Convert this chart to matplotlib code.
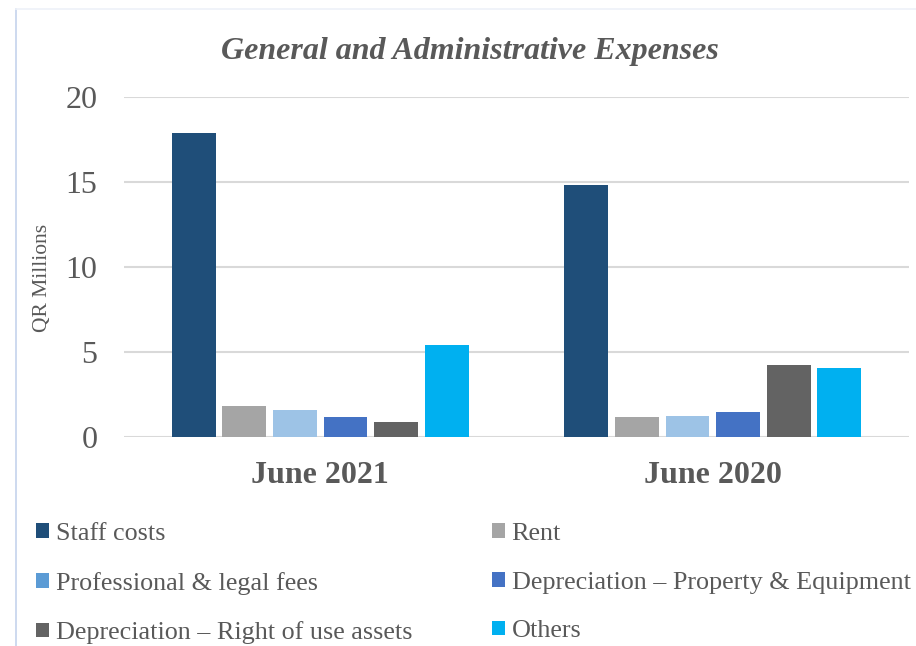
import matplotlib
matplotlib.use("Agg")
import matplotlib.pyplot as plt
import numpy as np
from matplotlib.patches import Patch
from matplotlib.lines import Line2D

categories = ["June 2021", "June 2020"]
series_names = ["Staff costs", "Rent", "Professional & legal fees",
                "Depreciation \u2013 Property & Equipment",
                "Depreciation \u2013 Right of use assets", "Others"]
staff_costs = [17.9, 14.8]
rent = [1.8, 1.2]
professional_fees = [1.6, 1.25]
dep_property = [1.2, 1.5]
dep_right_of_use = [0.9, 4.25]
others = [5.4, 4.05]
y_ticks = [0, 5, 10, 15, 20]

values = [staff_costs, rent, professional_fees, dep_property, dep_right_of_use, others]
bar_colors = ["#1F4E79", "#A5A5A5", "#9DC3E6", "#4472C4", "#636363", "#00B0F0"]
legend_colors = ["#1F4E79", "#A5A5A5", "#5B9BD5", "#4472C4", "#636363", "#00B0F0"]

plt.rcParams['font.family'] = ['Liberation Serif', 'DejaVu Serif']
text_color = "#595959"

W, H = 916, 646
fig = plt.figure(figsize=(W / 100, H / 100), dpi=100)
fig.patch.set_facecolor("white")

# chart frame
fig.add_artist(Line2D([16 / W, 16 / W], [0, 1 - 9 / H], transform=fig.transFigure,
                      color="#C5D3EC", lw=1.2))
fig.add_artist(Line2D([16 / W, 1], [1 - 9 / H, 1 - 9 / H], transform=fig.transFigure,
                      color="#EEF1F8", lw=1.2))

ax = fig.add_axes([124 / W, 1 - 437 / H, (909 - 124) / W, (437 - 97) / H])
x = np.arange(len(categories))
step = 0.1287
width = 0.112
for j, (vals, col) in enumerate(zip(values, bar_colors)):
    ax.bar(x + (j - 2.5) * step, vals, width=width, color=col, zorder=3)

ax.set_xlim(-0.5, 1.5)
ax.set_ylim(0, 20)
ax.set_yticks(y_ticks)
ax.set_yticklabels([str(t) for t in y_ticks], fontsize=23, color=text_color)
ax.set_xticks(x)
ax.set_xticklabels(categories, fontsize=23, fontweight="bold", color=text_color)
ax.tick_params(axis="y", length=0, pad=19)
ax.tick_params(axis="x", length=0, pad=17)
ax.grid(axis="y", color="#D9D9D9", lw=1.5, zorder=0)
for s in ax.spines.values():
    s.set_visible(False)

fig.text(470 / W, 1 - 51 / H, "General and Administrative Expenses", ha="center", va="center",
         fontsize=23, fontweight="bold", fontstyle="italic", color=text_color)
fig.text(43 / W, 1 - 278 / H, "QR Millions", rotation=90, ha="center", va="center",
         fontsize=15.5, color=text_color)

handles = [Patch(facecolor=c, label=n) for c, n in zip(legend_colors, series_names)]
common = dict(frameon=False, fontsize=18.8, handlelength=0.5, handleheight=0.5,
              handletextpad=0.25, labelspacing=1.02, borderpad=0, borderaxespad=0,
              labelcolor=text_color)
leg1 = fig.legend(handles=[handles[0], handles[2], handles[4]], loc="upper left",
                  bbox_to_anchor=(36 / W, 1 - 523 / H), **common)
leg2 = fig.legend(handles=[handles[1], handles[3], handles[5]], loc="upper left",
                  bbox_to_anchor=(492 / W, 1 - 523 / H), **common)

fig.savefig("out.png", dpi=100)
